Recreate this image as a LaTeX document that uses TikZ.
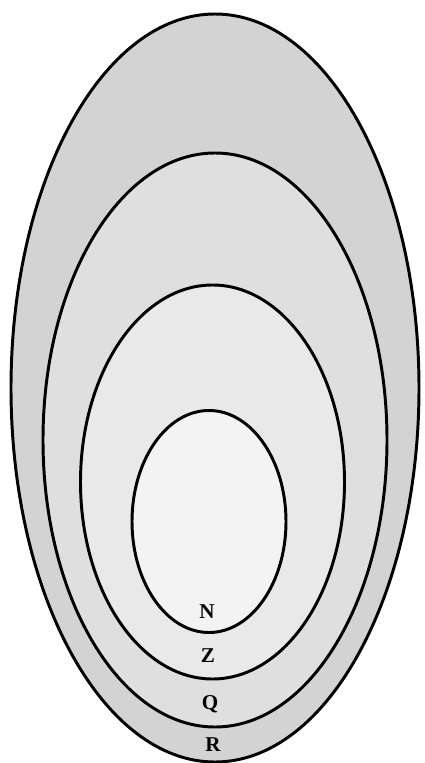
\documentclass[tikz,border=0pt]{standalone}
\usepackage{fontspec}
\setmainfont{Liberation Serif}
\usetikzlibrary{positioning}
\definecolor{setR}{gray}{0.827}
\definecolor{setQ}{gray}{0.875}
\definecolor{setZ}{gray}{0.914}
\definecolor{setN}{gray}{0.953}
\tikzset{
  setline/.style={line width=2.1pt,draw=black},
  setlabel/.style={font=\fontsize{15}{17}\selectfont\bfseries,inner sep=0pt}
}
\begin{document}
\begin{tikzpicture}[x=0.025cm,y=-0.025cm]
  \useasboundingbox (0,0) rectangle (424,763);
  \filldraw[setline,fill=setR] (215,388) ellipse [x radius=204,y radius=374];
  \filldraw[setline,fill=setQ] (215,440) ellipse [x radius=172,y radius=287];
  \filldraw[setline,fill=setZ] (212.5,482) ellipse [x radius=132,y radius=197];
  \filldraw[setline,fill=setN] (209,521.5) ellipse [x radius=77,y radius=111];
  \node[setlabel] (labN) at (207,612) {N};
  \node[setlabel] (labZ) at (208,656) {Z};
  \node[setlabel] (labQ) at (210,704) {Q};
  \node[setlabel] (labR) at (213,745) {R};
\end{tikzpicture}
\end{document}
